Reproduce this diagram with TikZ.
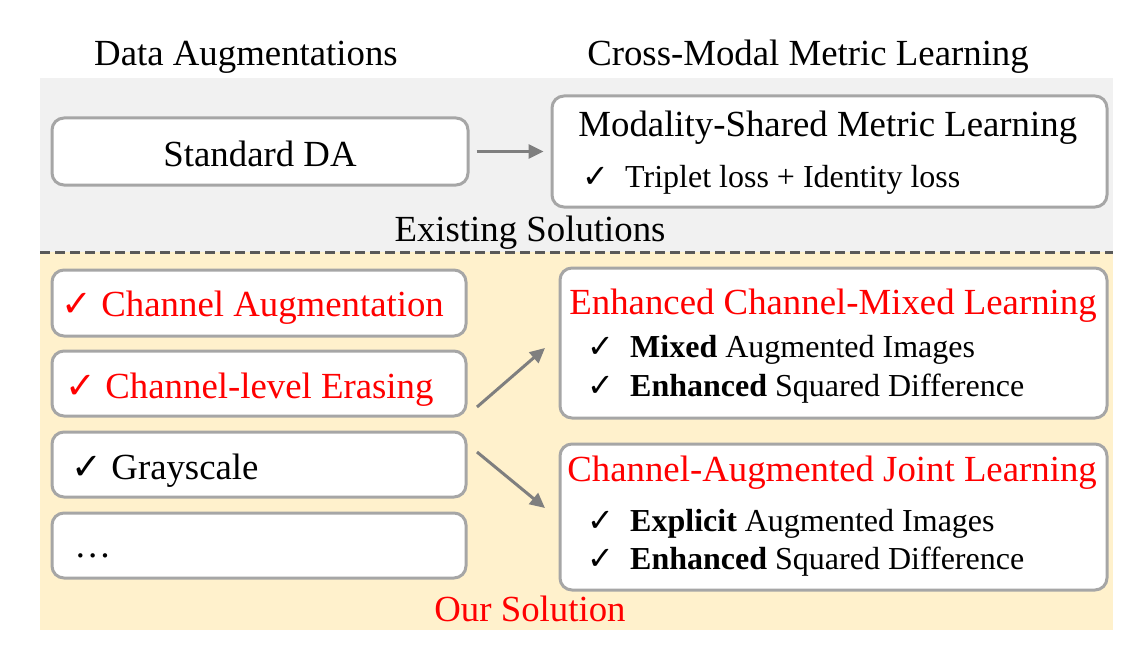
\documentclass[tikz,border=0pt]{standalone}
\usepackage{fontspec}
\setmainfont{Liberation Serif}
\newfontfamily\checkfont{DejaVu Sans}
\newcommand{\ckmark}{{\checkfont\symbol{"2713}}}
\usetikzlibrary{arrows.meta}
\definecolor{boxline}{HTML}{A6A6A6}
\definecolor{existbg}{HTML}{F1F1F1}
\definecolor{oursbg}{HTML}{FFF1CC}
\definecolor{sepline}{HTML}{595959}
\definecolor{arrowgray}{HTML}{7F7F7F}
\definecolor{ourred}{HTML}{FF0000}

\begin{document}
\begin{tikzpicture}[x=0.5pt, y=-0.5pt, >={Triangle[length=7.5pt,width=7pt]},
  box/.style={draw=boxline, line width=1.5pt, rounded corners=6pt, fill=white, inner sep=0pt},
  big/.style={font=\fontsize{18.4}{22}\selectfont, inner sep=0pt},
  small/.style={font=\fontsize{16}{19}\selectfont, inner sep=0pt},
  arr/.style={->, draw=arrowgray, line width=1.5pt, shorten <=3.5pt, shorten >=3.5pt}]
  \useasboundingbox (0,0) rectangle (1145,647);
  \fill[existbg] (40,78) rectangle (1113,252);
  \fill[oursbg] (40,252) rectangle (1113,630);
  \draw[sepline, line width=1.5pt, dash pattern=on 5pt off 2.5pt] (40,252) -- (1113,252);

  \node[big, anchor=base] (da) at (246,66) {Data Augmentations};
  \node[big, anchor=base] (cm) at (808,66) {Cross-Modal Metric Learning};

  \node[box, minimum width=208pt, minimum height=33.5pt] (std) at (260,151.5) {};
  \node[big, anchor=base] (stdt) at (260,166) {Standard DA};
  \node[box, minimum width=277.5pt, minimum height=55.5pt] (ms) at (829.5,151.5) {};
  \node[big, anchor=base west] (mst) at (578,136) {Modality-Shared Metric Learning};
  \node[small, anchor=base west] (msl) at (582,187) {\ckmark\ \ Triplet loss + Identity loss};
  \node[big, anchor=base] (exist) at (530,241) {Existing Solutions};

  \node[box, minimum width=207pt, minimum height=33pt] (ca) at (259,303) {};
  \node[big, anchor=base west, text=ourred] (cat) at (61,316) {\ckmark\ Channel Augmentation};
  \node[box, minimum width=207pt, minimum height=32.5pt] (ce) at (259,383.5) {};
  \node[big, anchor=base west, text=ourred] (cet) at (65,398) {\ckmark\ Channel-level Erasing};
  \node[box, minimum width=207pt, minimum height=32.5pt] (gs) at (259,464.5) {};
  \node[big, anchor=base west] (gst) at (71,479) {\ckmark\ Grayscale};
  \node[box, minimum width=207pt, minimum height=32.5pt] (more) at (259,545.5) {};
  \node[big, anchor=base west] (moret) at (74,557) {…};

  \node[box, minimum width=273.5pt, minimum height=75pt] (ecml) at (833.5,343) {};
  \node[big, anchor=base west, text=ourred] (ecmlt) at (569,314) {Enhanced Channel-Mixed Learning};
  \node[small, anchor=base west] (ecml1) at (587,357) {\ckmark\ \ \textbf{Mixed} Augmented Images};
  \node[small, anchor=base west] (ecml2) at (587,396) {\ckmark\ \ \textbf{Enhanced} Squared Difference};
  \node[box, minimum width=273.5pt, minimum height=73pt] (cajl) at (833.5,517) {};
  \node[big, anchor=base west, text=ourred] (cajlt) at (567,481) {Channel-Augmented Joint Learning};
  \node[small, anchor=base west] (cajl1) at (587,531) {\ckmark\ \ \textbf{Explicit} Augmented Images};
  \node[small, anchor=base west] (cajl2) at (587,569) {\ckmark\ \ \textbf{Enhanced} Squared Difference};
  \node[big, anchor=base, text=ourred] (ours) at (530,621) {Our Solution};

  \coordinate (up0) at (477,407);
  \coordinate (up1) at (545,348);
  \coordinate (dn0) at (477,452);
  \coordinate (dn1) at (545,508);
  \draw[arr] (std.east) -- (ms.west);
  \draw[arr, shorten <=0pt, shorten >=0pt] (up0) -- (up1);
  \draw[arr, shorten <=0pt, shorten >=0pt] (dn0) -- (dn1);
\end{tikzpicture}
\end{document}
